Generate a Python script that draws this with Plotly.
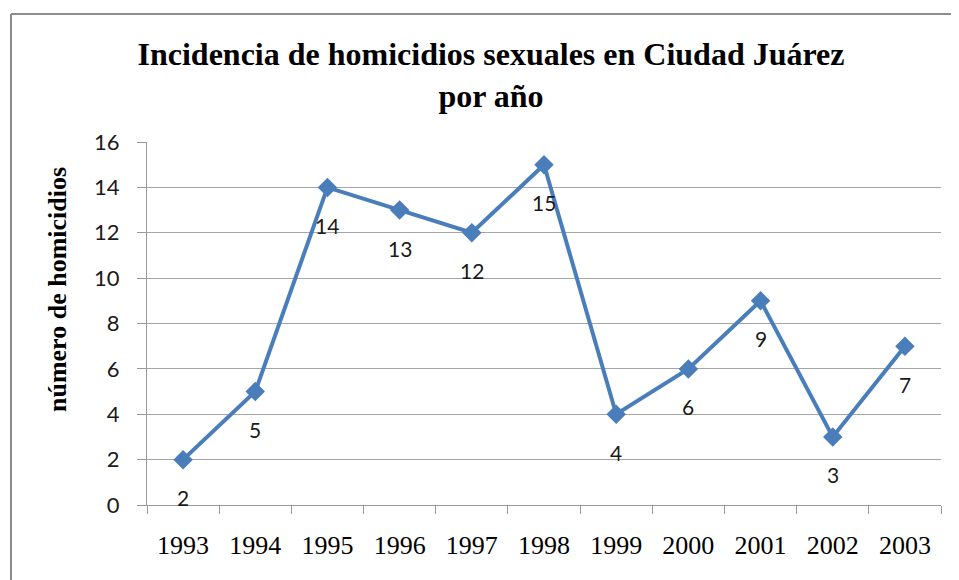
import plotly.graph_objects as go

years = ["1993", "1994", "1995", "1996", "1997", "1998", "1999", "2000", "2001", "2002", "2003"]
homicidios = [2, 5, 14, 13, 12, 15, 4, 6, 9, 3, 7]
y_ticks = [0, 2, 4, 6, 8, 10, 12, 14, 16]

title_text = "Incidencia de homicidios sexuales en Ciudad Juárez<br>por año"
y_title = "número de homicidios"

blue = "#4A7EBB"
serif = "Liberation Serif, Times New Roman, serif"
sans = "Lato, Liberation Sans, Arial, sans-serif"

# page body has an 8px margin; figure is sized to fit the 959x580 window
W, H = 951, 572
L, R, T, B = 139, 18, 134, 75
pw, ph = W - L - R, H - T - B

fig = go.Figure()
fig.add_trace(go.Scatter(
    x=years, y=homicidios, mode="lines+markers",
    line=dict(color=blue, width=4),
    marker=dict(symbol="diamond", size=15, color=blue),
    showlegend=False, hoverinfo="skip",
))

for i, v in enumerate(homicidios):
    fig.add_annotation(x=i, y=v, text=str(v), showarrow=False, yshift=-38,
                       font=dict(family=sans, size=21, color="#1a1a1a"))

fig.add_annotation(xref="paper", yref="paper", x=(49 - L) / pw, y=(497 - 282) / ph,
                   text=y_title, textangle=-90, showarrow=False,
                   xanchor="center", yanchor="middle",
                   font=dict(family=serif, size=26, color="black", weight="bold"))

fig.update_layout(
    width=W, height=H,
    margin=dict(l=L, r=R, t=T, b=B),
    paper_bgcolor="white", plot_bgcolor="white",
    title=dict(text=title_text, x=483 / W, xanchor="center", y=1 - 57 / H, yanchor="top",
               font=dict(family=serif, size=32, color="black", weight="bold")),
    xaxis=dict(type="category", tickson="boundaries", ticks="outside", ticklen=8,
               tickcolor="#9a9a9a", showgrid=False, showline=True, linecolor="#9a9a9a",
               linewidth=1, range=[-0.5, 10.5], ticklabelstandoff=17,
               tickfont=dict(family=serif, size=26, color="black")),
    yaxis=dict(range=[0, 16], tickvals=y_ticks, ticks="outside", ticklen=9,
               tickcolor="#9a9a9a", showgrid=True, gridcolor="#a6a6a6", gridwidth=1,
               showline=True, linecolor="#9a9a9a", linewidth=1, zeroline=False,
               ticklabelstandoff=13,
               tickfont=dict(family=sans, size=22, color="#1a1a1a")),
)

# outer chart border (left and top edges visible)
bx = (3 - L) / pw
by = (H - B - 6) / ph
fig.add_shape(type="line", xref="paper", yref="paper", x0=bx, x1=1.3, y0=by, y1=by,
              line=dict(color="#8c8c8c", width=2), layer="below")
fig.add_shape(type="line", xref="paper", yref="paper", x0=bx, x1=bx, y0=-0.5, y1=by,
              line=dict(color="#8c8c8c", width=2), layer="below")

fig.write_html("out.html")
